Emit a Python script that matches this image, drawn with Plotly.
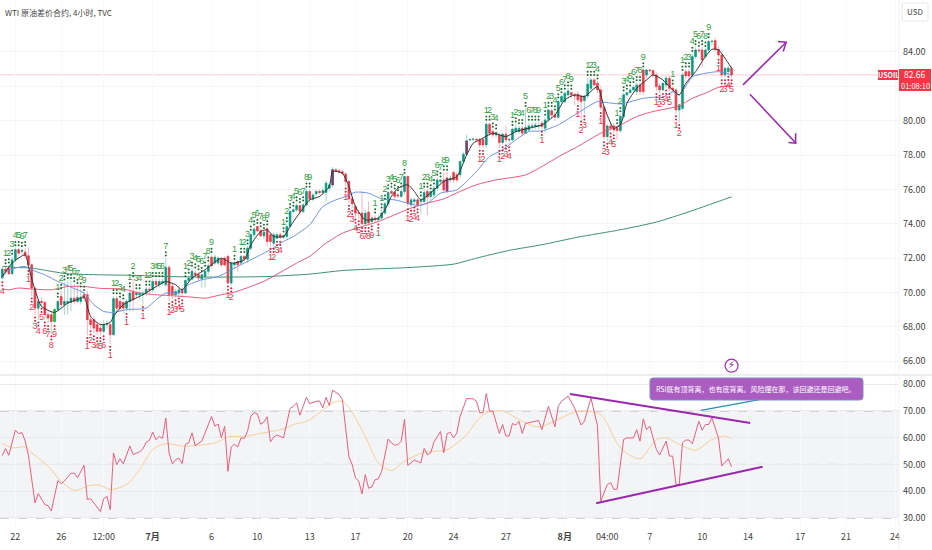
import plotly.graph_objects as go

# 4h candles, one row = 10 bars
opens = [
    70.84, 71.36, 71.42, 71.09, 71.90, 72.49, 72.39, 72.35, 72.14, 71.61,
    70.26, 69.09, 69.48, 69.42, 68.71, 68.71, 68.32, 69.00, 69.77, 69.29,
    69.38, 69.42, 69.67, 69.48, 69.48, 69.87, 69.87, 68.42, 68.42, 68.13,
    67.93, 67.74, 68.13, 68.13, 67.54, 69.64, 69.48, 69.42, 69.09, 69.48,
    70.06, 69.87, 69.87, 69.87, 69.97, 70.20, 70.16, 70.64, 70.45, 70.55,
    70.45, 71.46, 70.35, 69.87, 69.97, 70.16, 69.97, 70.70, 70.78, 71.13,
    71.03, 70.78, 70.93, 71.23, 72.06, 71.71, 71.71, 71.94, 72.00, 72.10,
    70.55, 71.61, 71.81, 71.71, 72.10, 71.94, 72.58, 73.36, 73.84, 73.59,
    73.30, 73.71, 73.36, 72.87, 73.16, 73.36, 73.22, 73.26, 73.84, 74.71,
    74.81, 75.06, 74.71, 75.10, 75.88, 75.43, 75.74, 75.88, 75.82, 75.82,
    76.07, 76.26, 77.14, 77.08, 77.02, 76.90, 76.46, 75.45, 75.00, 74.62,
    74.62, 74.00, 74.68, 74.13, 74.33, 74.23, 74.33, 74.62, 75.16, 75.88,
    75.82, 75.68, 75.59, 75.88, 76.75, 75.10, 75.30, 75.39, 75.30, 75.30,
    75.88, 75.59, 75.68, 76.07, 76.46, 76.55, 76.65, 76.55, 76.98, 76.85,
    76.85, 77.62, 78.05, 78.88, 78.90, 78.92, 78.92, 78.92, 78.59, 79.79,
    79.37, 79.17, 79.17, 78.73, 79.21, 78.88, 78.88, 79.37, 79.37, 79.56,
    79.27, 79.46, 79.66, 79.66, 79.69, 79.85, 79.56, 80.08, 80.57, 80.33,
    80.20, 81.11, 81.11, 81.50, 81.63, 81.50, 81.54, 81.44, 81.17, 81.44,
    81.88, 82.37, 82.17, 81.79, 80.78, 79.07, 79.69, 79.69, 79.56, 79.42,
    80.24, 81.50, 81.63, 81.79, 81.69, 82.08, 82.95, 82.66, 82.95, 82.91,
    82.66, 82.02, 81.79, 82.08, 82.47, 81.88, 81.79, 80.62, 80.72, 82.85,
    82.85, 82.66, 83.73, 84.11, 84.11, 83.73, 84.11, 84.60, 84.66, 84.15,
    83.82, 82.66, 82.85, 83.05,
]
closes = [
    71.36, 71.23, 71.09, 71.90, 72.49, 72.29, 72.45, 72.14, 71.61, 70.26,
    69.09, 69.48, 69.42, 68.71, 68.51, 68.32, 69.00, 69.48, 69.29, 69.48,
    69.48, 69.67, 69.48, 69.71, 69.73, 69.67, 68.42, 68.13, 67.93, 67.74,
    67.74, 68.13, 68.15, 67.54, 69.64, 69.09, 69.09, 69.09, 69.48, 69.97,
    69.58, 69.97, 69.97, 69.97, 70.20, 70.16, 70.64, 70.45, 70.64, 70.64,
    71.46, 69.87, 69.87, 70.06, 70.16, 69.97, 70.70, 70.84, 71.23, 71.03,
    70.84, 71.03, 71.23, 71.55, 71.55, 72.06, 72.00, 71.61, 71.61, 70.55,
    71.71, 71.71, 71.61, 72.10, 71.94, 72.58, 73.36, 73.69, 73.59, 73.30,
    73.51, 72.97, 72.97, 73.36, 73.36, 73.22, 73.30, 73.84, 74.71, 74.81,
    75.06, 74.71, 75.10, 75.88, 75.43, 75.68, 75.88, 75.82, 75.93, 76.36,
    76.26, 77.14, 77.08, 77.02, 76.94, 76.46, 75.45, 75.16, 74.62, 74.60,
    74.00, 74.62, 74.04, 74.33, 74.23, 74.33, 74.62, 75.16, 75.82, 75.78,
    75.59, 75.62, 75.88, 76.75, 75.16, 75.39, 75.39, 75.10, 75.39, 75.82,
    75.55, 75.88, 76.07, 76.55, 76.55, 75.97, 75.88, 76.65, 76.55, 76.55,
    77.62, 78.05, 78.82, 78.90, 78.92, 78.88, 78.59, 78.59, 79.79, 79.27,
    79.17, 79.31, 78.73, 79.21, 78.88, 78.90, 79.50, 79.56, 79.56, 79.27,
    79.60, 79.69, 79.69, 79.75, 79.71, 79.66, 80.04, 80.62, 80.33, 80.20,
    81.11, 81.40, 81.59, 81.73, 81.50, 81.44, 81.21, 81.11, 81.44, 82.12,
    82.37, 82.08, 81.79, 80.78, 79.07, 79.69, 79.56, 79.46, 79.42, 80.24,
    81.50, 81.63, 81.79, 81.94, 82.08, 81.69, 81.69, 82.95, 82.91, 82.66,
    81.98, 81.79, 82.17, 82.47, 81.88, 81.79, 80.62, 80.92, 82.66, 82.60,
    82.60, 83.73, 84.11, 84.07, 83.53, 84.11, 84.60, 84.62, 84.15, 83.82,
    82.66, 83.05, 83.05, 82.66,
]
highs = [
    71.5, 71.55, 71.6, 72.1, 72.6, 72.6, 72.55, 72.6, 72.6, 71.7,
    70.3, 69.6, 69.7, 69.5, 68.9, 68.9, 69.1, 69.6, 70.1, 70.6,
    70.7, 70.7, 70.5, 70.4, 70.2, 70.0, 70.1, 68.6, 68.6, 68.3,
    68.2, 68.4, 68.4, 68.3, 69.8, 69.8, 69.6, 69.5, 69.6, 70.2,
    70.8, 70.1, 70.1, 70.1, 70.3, 70.3, 70.8, 70.8, 70.8, 70.8,
    72.0, 71.6, 70.5, 70.2, 70.3, 70.3, 70.8, 71.0, 71.4, 71.3,
    71.2, 71.1, 71.4, 71.7, 72.2, 72.2, 72.1, 72.0, 72.1, 72.2,
    71.8, 71.8, 71.9, 72.2, 72.2, 72.7, 73.5, 73.8, 73.9, 73.7,
    73.6, 73.8, 73.4, 73.5, 73.5, 73.5, 73.4, 74.0, 74.8, 74.9,
    75.2, 75.1, 75.2, 76.0, 76.0, 75.8, 76.0, 76.0, 76.1, 76.5,
    76.4, 77.3, 77.25, 77.2, 77.15, 77.0, 76.6, 75.6, 75.1, 74.8,
    75.9, 74.8, 75.3, 74.5, 74.5, 74.5, 74.8, 75.3, 75.9, 76.0,
    75.9, 75.8, 76.0, 76.8, 76.8, 75.5, 75.5, 75.5, 75.5, 76.0,
    76.0, 75.9, 76.2, 76.7, 76.6, 77.0, 77.0, 76.8, 77.1, 77.0,
    77.7, 78.2, 79.2, 79.0, 79.0, 79.0, 79.0, 79.0, 79.9, 79.9,
    79.5, 79.4, 79.3, 79.3, 79.7, 79.0, 79.6, 79.8, 79.7, 79.7,
    80.7, 79.9, 79.9, 79.9, 79.9, 80.0, 80.2, 80.7, 80.7, 80.5,
    81.2, 81.5, 81.7, 81.9, 81.7, 81.6, 81.7, 81.5, 81.5, 82.5,
    82.5, 82.5, 82.3, 82.0, 80.9, 79.8, 79.9, 79.9, 79.7, 80.4,
    81.6, 81.7, 81.9, 82.1, 82.2, 82.2, 83.0, 83.0, 83.0, 83.0,
    82.8, 82.2, 82.3, 82.6, 82.6, 82.0, 81.9, 81.0, 82.8, 83.0,
    83.0, 83.9, 84.3, 84.2, 84.3, 84.2, 84.7, 84.7, 84.85, 84.3,
    83.9, 83.1, 83.2, 83.2,
]
lows = [
    70.75, 71.1, 71.0, 71.0, 71.8, 72.15, 72.2, 72.0, 71.4, 69.8,
    68.7, 68.4, 69.2, 68.4, 68.2, 67.6, 68.2, 68.9, 69.1, 68.7,
    68.7, 68.9, 69.3, 69.4, 69.3, 69.5, 67.5, 67.9, 67.6, 67.5,
    67.5, 67.6, 67.9, 67.0, 67.5, 68.9, 68.9, 68.8, 68.9, 68.9,
    68.9, 69.7, 69.6, 69.3, 69.8, 69.9, 70.0, 70.3, 70.3, 70.4,
    70.3, 69.5, 69.6, 69.7, 69.8, 69.7, 69.9, 70.6, 70.7, 70.9,
    70.7, 70.3, 70.3, 71.0, 71.4, 71.6, 71.6, 71.5, 71.5, 70.5,
    70.4, 71.4, 71.2, 71.6, 71.8, 71.7, 72.4, 73.2, 73.5, 73.2,
    73.1, 72.7, 72.7, 72.7, 73.1, 73.1, 73.1, 73.1, 73.7, 74.6,
    74.7, 74.5, 74.6, 75.0, 75.2, 75.3, 75.6, 75.7, 75.7, 75.3,
    75.9, 76.1, 77.0, 76.9, 76.8, 76.2, 75.2, 74.9, 74.4, 74.3,
    73.9, 73.9, 73.9, 74.0, 74.1, 74.1, 74.2, 74.5, 75.0, 75.7,
    75.4, 75.5, 75.5, 75.7, 75.0, 74.9, 75.1, 75.0, 74.6, 75.2,
    74.5, 75.4, 75.5, 75.9, 76.3, 75.8, 75.8, 76.4, 76.4, 76.4,
    76.7, 77.5, 78.0, 78.8, 78.8, 78.8, 78.4, 78.4, 78.4, 79.1,
    79.0, 79.0, 78.4, 78.6, 78.7, 78.6, 78.8, 79.2, 79.2, 79.1,
    79.2, 79.4, 79.5, 79.5, 79.5, 79.5, 79.3, 79.9, 80.1, 80.0,
    80.1, 81.0, 81.0, 81.4, 81.3, 80.9, 81.0, 80.1, 80.4, 81.3,
    81.7, 82.0, 81.6, 80.6, 78.9, 78.8, 79.4, 79.3, 78.9, 79.3,
    80.1, 81.4, 81.6, 81.7, 81.5, 81.5, 81.5, 82.5, 82.8, 82.5,
    81.7, 81.6, 81.7, 81.9, 81.7, 81.6, 80.4, 79.9, 80.6, 82.4,
    82.2, 82.5, 83.6, 83.9, 83.1, 83.6, 84.0, 84.4, 84.0, 83.7,
    82.5, 82.5, 82.7, 82.5,
]
bars = list(range(len(closes)))

# candles the script paints in another colour
bright_bars = [16]
purple_bars = [101, 142, 136]

black_bar = [0, 3, 7, 8, 10, 12, 16, 20, 24, 25, 27, 30, 33, 34, 37, 43, 48, 50, 53, 55, 58, 62, 67, 70, 74, 76, 79, 81, 83, 86, 88, 92, 94,
             97, 100, 101, 104, 106, 108, 111, 115, 117, 119, 121, 124, 126, 128, 132, 135, 139, 142, 144, 146, 150, 154, 157, 161, 165, 169, 172, 175, 178, 182, 184, 187,
             189, 191, 194, 197, 199, 202, 204, 207, 209, 212, 215, 217, 219, 221, 223]
black_val = [70.93, 71.71, 72.2, 71.52, 70.16, 69.19, 68.84, 69.38, 69.67, 69.77, 68.61, 68.13, 68.26, 68.61, 69.29, 69.87, 70.45, 70.64, 70.45, 70.16, 70.84, 71.32, 72.0, 71.71, 71.9, 72.78, 73.55, 73.65, 73.26, 73.26, 73.84, 74.91, 75.39,
             75.59, 76.17, 77.04, 76.94, 76.17, 75.0, 74.23, 74.33, 74.81, 75.59, 76.07, 76.27, 75.88, 75.39, 75.97, 76.46, 76.75, 78.01, 78.69, 78.88, 79.27, 79.07, 79.36, 79.56, 79.75, 80.33, 81.21, 81.5, 81.4, 81.98, 80.82, 79.56,
             79.75, 81.01, 81.88, 82.37, 82.66, 82.37, 81.98, 81.5, 82.17, 82.85, 83.73, 84.15, 84.12, 83.63, 83.05]
blue_bar = [0, 1, 4, 7, 9, 13, 17, 21, 25, 28, 31, 34, 38, 44, 47, 50, 54, 57, 61, 66, 70, 74, 79, 82, 86, 89, 94,
            98, 102, 105, 108, 112, 116, 120, 124, 127, 130, 134, 139, 142, 145, 149, 153, 157, 161, 165, 170, 175, 180, 182, 185, 189,
            191, 196, 199, 202, 205, 207, 211, 214, 219, 223]
blue_val = [70.84, 71.17, 71.42, 71.52, 71.32, 71.03, 70.64, 70.31, 69.97, 69.29, 68.9, 68.84, 69.0, 69.09, 69.58, 69.97, 69.97, 70.45, 70.74, 70.93, 71.32, 71.71, 72.19, 72.49, 72.97, 73.26, 73.94,
            75.0, 75.39, 75.59, 75.84, 75.78, 75.45, 75.39, 75.2, 75.06, 75.2, 75.78, 75.97, 76.46, 77.04, 77.91, 78.3, 78.88, 79.37, 79.4, 79.75, 80.33, 80.92, 81.11, 81.05, 80.97,
            81.05, 81.3, 81.36, 81.36, 81.69, 81.5, 82.56, 82.72, 82.85, 82.66]
red_bar = [0, 2, 5, 9, 15, 20, 25, 30, 37, 42, 47, 52, 58, 62, 67, 71, 76, 81, 86, 91, 94,
           99, 104, 109, 115, 120, 125, 130, 135, 140, 145, 151, 160, 165, 171, 176, 183, 189,
           194, 199, 204, 207, 211, 215, 219, 223]
red_val = [70.2, 70.16, 70.26, 70.2, 70.16, 70.35, 70.35, 70.24, 70.2, 69.97, 69.87, 69.81, 69.73, 69.67, 69.87, 70.02, 70.35, 70.74, 71.28, 71.81, 72.1,
           72.87, 73.45, 73.78, 74.13, 74.52, 74.91, 75.2, 75.45, 75.88, 76.27, 76.55, 76.84, 77.33, 78.0, 78.5, 79.27, 79.75,
           80.24, 80.53, 80.72, 80.86, 81.3, 81.6, 81.94, 82.08]
green_bar = [0, 4, 9, 15, 20, 30, 40, 50, 61, 71, 81, 94, 104, 115, 125, 138, 145, 155, 165, 176, 189, 200, 210, 223]
green_val = [71.52, 71.46, 71.42, 71.23, 71.09, 71.03, 71.0, 70.93, 70.9, 70.9, 70.93, 71.07, 71.28, 71.38, 71.46, 71.65, 72.0, 72.45, 72.78, 73.22, 73.65, 74.1, 74.7, 75.57]

# RSI turning points
rsi_bar = [0, 1, 2, 4, 5, 6, 7, 8, 10, 11, 13, 14, 15, 17, 18, 19, 21, 22, 23, 25, 26, 27, 30, 31, 32, 33, 34, 35, 36, 37,
           39, 40, 42, 43, 44, 45, 46, 47, 48, 49, 50, 51, 52, 53, 54, 55, 56, 57, 58, 59, 61, 64, 65, 66, 67, 68, 69, 70, 71, 72,
           73, 74, 75, 76, 77, 78, 79, 80, 81, 82, 83, 84, 86, 88, 89, 90, 91, 93, 94, 96, 97, 98, 99, 100, 101, 103, 104, 105, 106, 107,
           108, 109, 110, 111, 112, 113, 114, 115, 116, 118, 119, 120, 121, 122, 123, 124, 126, 128, 129, 130, 131, 132, 134, 135, 136, 137, 138, 139, 140, 142,
           144, 145, 146, 147, 148, 149, 150, 152, 153, 154, 155, 156, 157, 158, 159, 160, 164, 165, 167, 169, 170, 171, 173, 175, 177, 178, 180, 182, 183, 185,
           186, 187, 188, 190, 191, 193, 194, 195, 196, 197, 198, 200, 201, 203, 204, 205, 206, 207, 208, 209, 210, 211, 213, 214, 215, 216, 217, 219, 220, 222, 223]
rsi_val = [53.3, 55.9, 53.4, 62.8, 61.5, 61.9, 58.7, 53.3, 35.6, 39.1, 35.0, 34.6, 32.6, 44.0, 42.8, 43.8, 46.7, 46.7, 45.0, 49.7, 36.9, 37.2, 32.4, 37.2, 38.1, 33.1, 54.3, 49.9, 52.1, 50.2,
           56.9, 53.7, 54.7, 55.8, 58.3, 59.0, 62.1, 59.2, 60.5, 59.7, 67.3, 54.3, 50.2, 51.8, 52.3, 50.3, 57.5, 58.0, 61.8, 57.0, 58.7, 67.9, 64.3, 65.1, 59.9, 64.3, 47.4, 56.5, 57.5, 56.5,
           59.9, 59.7, 62.4, 68.0, 69.3, 68.9, 65.0, 65.8, 67.8, 58.4, 60.2, 61.0, 59.9, 70.9, 71.7, 73.0, 68.4, 75.1, 72.7, 73.6, 73.7, 71.1, 75.1, 72.0, 77.7, 76.1, 74.2, 64.3, 52.8, 49.9,
           45.0, 43.7, 39.0, 46.2, 41.1, 41.6, 44.3, 44.6, 47.4, 59.5, 58.0, 57.2, 57.4, 58.7, 66.8, 49.6, 51.6, 50.6, 56.0, 53.6, 54.3, 58.4, 62.3, 54.3, 61.5, 62.0, 59.9, 61.8, 68.0, 74.6,
           74.5, 73.6, 69.3, 69.3, 76.5, 69.9, 69.9, 61.6, 64.9, 60.6, 60.6, 65.3, 64.7, 66.1, 61.6, 65.3, 66.4, 63.0, 71.7, 64.0, 71.7, 73.6, 75.5, 71.1, 64.7, 66.1, 74.8, 64.5, 36.3, 42.5,
           43.2, 40.7, 40.7, 59.3, 59.9, 59.9, 63.0, 58.7, 67.0, 63.0, 64.3, 55.6, 53.5, 58.7, 53.1, 53.1, 42.5, 42.5, 58.1, 59.1, 59.1, 57.7, 66.1, 62.8, 64.9, 64.9, 67.4, 59.9, 49.4, 52.1, 49.1]
rsi_ma_bar = [0, 3, 7, 9, 14, 18, 22, 27, 30, 33, 38, 42, 46, 50, 55, 60, 65, 69, 74, 80, 86, 89, 93, 97, 101, 104, 107, 111, 115, 119, 123, 129, 136, 142,
              145, 148, 153, 159, 164, 171, 176, 183, 189, 195, 200, 203, 207, 212, 217, 221, 223]
rsi_ma_val = [57.8, 56.2, 56.5, 54.3, 49.3, 43.7, 40.3, 42.2, 42.2, 40.6, 42.5, 48.1, 55.5, 57.8, 56.8, 57.2, 58.0, 60.3, 60.5, 61.8, 63.3, 64.9, 66.1, 69.3, 73.0, 73.6, 69.3, 60.5, 50.6, 47.7, 51.2, 54.5, 55.5, 61.1,
              66.1, 69.3, 69.9, 66.1, 64.0, 67.4, 69.9, 68.6, 56.2, 52.1, 59.3, 59.9, 57.5, 55.3, 59.3, 60.6, 59.6]

# sequential count labels
up_bar = [1, 2, 3, 4, 5, 6, 7, 17, 18, 19, 20, 21, 22, 23, 24, 25, 34, 35, 36, 37, 39, 40, 41, 42,
          44, 45, 46, 47, 48, 49, 50, 56, 57, 58, 59, 60, 61, 62, 63, 64, 71, 73, 74, 75, 76, 77, 78, 79, 80, 81,
          86, 87, 88, 89, 90, 91, 92, 93, 94, 114, 116, 117, 118, 119, 120, 121, 122, 123,
          128, 129, 130, 131, 132, 133, 134, 135, 136, 148, 149, 150, 151,
          156, 157, 158, 159, 160, 161, 162, 163, 164, 166, 167, 168, 169, 170, 171, 172, 173, 174,
          179, 180, 181, 182, 188, 189, 190, 191, 192, 193, 194, 195, 196, 205,
          208, 209, 210, 211, 212, 213, 214, 215, 216]
up_label = ["1", "2", "3", "4", "5", "6", "7", "1", "2", "3", "4", "5", "6", "7", "8", "9", "1", "2", "3", "4", "1", "2", "3", "4",
            "1", "2", "3", "4", "5", "6", "7", "1", "2", "3", "4", "5", "6", "7", "8", "9", "1", "1", "2", "3", "4", "5", "6", "7", "8", "9",
            "1", "2", "3", "4", "5", "6", "7", "8", "9", "1", "1", "2", "3", "4", "5", "6", "7", "8",
            "1", "2", "3", "4", "5", "6", "7", "8", "9", "1", "2", "3", "4",
            "1", "2", "3", "4", "5", "6", "7", "8", "9", "1", "2", "3", "4", "5", "6", "7", "8", "9",
            "1", "2", "3", "4", "1", "2", "3", "4", "5", "6", "7", "8", "9", "1",
            "1", "2", "3", "4", "5", "6", "7", "8", "9"]
down_bar = [0, 8, 9, 10, 11, 12, 13, 14, 15, 16, 26, 27, 28, 29, 30, 31, 33, 38, 43, 51, 52, 53, 54, 55, 69, 70, 82, 83, 84, 85,
            105, 106, 107, 108, 109, 110, 111, 112, 113, 115, 124, 125, 126, 127, 146, 147, 152, 153, 154, 155, 165,
            176, 177, 178, 183, 184, 185, 186, 187, 200, 201, 202, 203, 204, 206, 207, 219, 220, 221, 222, 223]
down_label = ["4", "1", "2", "3", "4", "5", "6", "7", "8", "9", "1", "2", "3", "4", "5", "6", "1", "1", "1", "1", "2", "3", "4", "5", "1", "2", "1", "2", "3", "4",
              "1", "2", "3", "4", "5", "6", "7", "8", "9", "1", "1", "2", "3", "4", "1", "2", "1", "2", "3", "4", "1",
              "1", "2", "3", "1", "2", "3", "4", "5", "1", "2", "3", "4", "5", "1", "2", "1", "2", "3", "4", "5"]

# axis ticks
price_ticks = [66, 68, 70, 72, 74, 76, 78, 80, 82, 84]
rsi_ticks = [30, 40, 50, 60, 70, 80]
x_ticks = [4, 18, 31, 46, 64, 78, 94, 108, 124, 138, 154, 172, 185, 198, 214, 228, 244, 258, 273]
x_labels = ["22", "26", "12:00", "<b>7月</b>", "6", "10", "13", "17", "20", "24", "27", "<b>8月</b>", "04:00", "7", "10", "14", "17", "21", "24"]
last_price = 82.66

UP = "#089981"
DOWN = "#f23645"
PURPLE = "#9c27b0"
CJK = "Noto Sans CJK SC"
NARROW = "Liberation Sans Narrow, Noto Sans CJK SC"
W, H = 932, 550
PANE_R = 899


def px(x):
    return x / W


def py(y):
    return 1 - y / H


fig = go.Figure()

# wicks are paler than bodies, so two layers
fig.add_trace(go.Candlestick(
    x=bars, open=opens, high=highs, low=lows, close=closes, whiskerwidth=0,
    increasing=dict(line=dict(color="#a5d8cf", width=1), fillcolor=UP),
    decreasing=dict(line=dict(color="#f8b4ba", width=1), fillcolor=DOWN),
    hoverinfo="skip",
))
body_hi = [max(o, c) for o, c in zip(opens, closes)]
body_lo = [min(o, c) for o, c in zip(opens, closes)]
fig.add_trace(go.Candlestick(
    x=bars, open=opens, high=body_hi, low=body_lo, close=closes, whiskerwidth=0,
    increasing=dict(line=dict(color=UP, width=0.6), fillcolor=UP),
    decreasing=dict(line=dict(color=DOWN, width=0.6), fillcolor=DOWN),
    hoverinfo="skip",
))
for picked, col in [(bright_bars, "#22c93c"), (purple_bars, "#8a3a78")]:
    fig.add_trace(go.Candlestick(
        x=picked, open=[opens[i] for i in picked], high=[body_hi[i] for i in picked],
        low=[body_lo[i] for i in picked], close=[closes[i] for i in picked], whiskerwidth=0,
        increasing=dict(line=dict(color=col, width=0.6), fillcolor=col),
        decreasing=dict(line=dict(color=col, width=0.6), fillcolor=col),
        hoverinfo="skip",
    ))

for xs, ys, col in [(green_bar, green_val, "#3f8f76"), (red_bar, red_val, "#e8577a"),
                    (blue_bar, blue_val, "#6f92e0"), (black_bar, black_val, "#333333")]:
    fig.add_trace(go.Scatter(x=xs, y=ys, mode="lines", line=dict(color=col, width=1, shape="spline", smoothing=0.6), hoverinfo="skip"))

# count labels with their dots
up_top = [highs[i] for i in up_bar]
down_bot = [lows[i] for i in down_bar]
for off in (0.15, 0.34):
    fig.add_trace(go.Scatter(x=up_bar, y=[v + off for v in up_top], mode="markers",
                             marker=dict(color="#1b6e2a", size=2), hoverinfo="skip"))
    fig.add_trace(go.Scatter(x=down_bar, y=[v - off for v in down_bot], mode="markers",
                             marker=dict(color="#d81f36", size=2), hoverinfo="skip"))
fig.add_trace(go.Scatter(x=up_bar, y=[v + 0.42 for v in up_top], mode="text", text=up_label, textposition="top center",
                         textfont=dict(color="#2e9e3e", size=9, family="Liberation Sans Narrow, Liberation Sans"), hoverinfo="skip"))
fig.add_trace(go.Scatter(x=down_bar, y=[v - 0.42 for v in down_bot], mode="text", text=down_label, textposition="bottom center",
                         textfont=dict(color="#e5384f", size=9, family="Liberation Sans Narrow, Liberation Sans"), hoverinfo="skip"))

# hand-drawn arrows on the price pane
arrow_up_x = [226.5, 239.7]
arrow_up_y = [82.08, 84.56]
arrow_up_head_x = [237.2, 239.7, 238.8]
arrow_up_head_y = [84.6, 84.56, 84.02]
arrow_down_x = [228.6, 242.7]
arrow_down_y = [81.54, 78.69]
arrow_down_head_x = [240.4, 242.6, 242.6]
arrow_down_head_y = [78.73, 78.69, 79.27]
for xs, ys in [(arrow_up_x, arrow_up_y), (arrow_up_head_x, arrow_up_head_y),
               (arrow_down_x, arrow_down_y), (arrow_down_head_x, arrow_down_head_y)]:
    fig.add_trace(go.Scatter(x=xs, y=ys, mode="lines", line=dict(color=PURPLE, width=1.5), hoverinfo="skip"))

# news marker above the RSI pane
fig.add_trace(go.Scatter(x=[223], y=[65.74], mode="markers+text", text=["⚡"], textposition="middle center",
                         marker=dict(size=13, color="white", line=dict(color=PURPLE, width=1.2)),
                         textfont=dict(size=10, color=PURPLE, family="DejaVu Sans"), hoverinfo="skip"))

# RSI pane
fig.add_trace(go.Scatter(x=rsi_ma_bar, y=rsi_ma_val, yaxis="y2", mode="lines",
                         line=dict(color="#f6cf9a", width=1, shape="spline", smoothing=0.8), hoverinfo="skip"))
fig.add_trace(go.Scatter(x=rsi_bar, y=rsi_val, yaxis="y2", mode="lines",
                         line=dict(color="#e8607e", width=1), hoverinfo="skip"))
trend_upper_x = [173.6, 228.7]
trend_upper_y = [76.3, 65.5]
trend_lower_x = [181.6, 232.5]
trend_lower_y = [35.5, 49.1]
callout_x = [213.6, 231.5]
callout_y = [70.2, 74.2]
fig.add_trace(go.Scatter(x=callout_x, y=callout_y, yaxis="y2", mode="lines", line=dict(color="#2a8fb0", width=1.2), hoverinfo="skip"))
for xs, ys in [(trend_upper_x, trend_upper_y), (trend_lower_x, trend_lower_y)]:
    fig.add_trace(go.Scatter(x=xs, y=ys, yaxis="y2", mode="lines", line=dict(color=PURPLE, width=2), hoverinfo="skip"))

shapes = [
    # last price line
    dict(type="line", xref="paper", x0=0, x1=px(PANE_R), yref="y", y0=last_price, y1=last_price, line=dict(color="#f9c9ce", width=1), layer="below"),
    # RSI band
    dict(type="rect", xref="paper", x0=0, x1=px(PANE_R), yref="y2", y0=30, y1=70, fillcolor="#f3f4f6", line_width=0, layer="below"),
    # pane separator and right edge
    dict(type="line", xref="paper", yref="paper", x0=0, x1=1, y0=py(375), y1=py(375), line=dict(color="#eceef1", width=2)),
    dict(type="line", xref="paper", yref="paper", x0=px(PANE_R), x1=px(PANE_R), y0=0, y1=1, line=dict(color="#f0f1f3", width=1)),
    # price tags
    dict(type="rect", xref="paper", yref="paper", x0=px(878), x1=px(898), y0=py(80), y1=py(70), fillcolor=DOWN, line_width=0),
    dict(type="rect", xref="paper", yref="paper", x0=px(899), x1=px(931), y0=py(91), y1=py(69), fillcolor=DOWN, line_width=0),
    # USD button
    dict(type="rect", xref="paper", yref="paper", x0=px(902), x1=px(928), y0=py(21), y1=py(3), fillcolor="white", line=dict(color="#e6e8ec", width=1)),
    # callout box
    dict(type="path", xref="paper", yref="paper", fillcolor="#ab5cc0", line=dict(color="#7f8fc4", width=1),
         path=f"M {px(653)},{py(378)} L {px(860)},{py(378)} Q {px(863)},{py(378)} {px(863)},{py(381)} "
              f"L {px(863)},{py(397)} Q {px(863)},{py(400)} {px(860)},{py(400)} L {px(653)},{py(400)} "
              f"Q {px(650)},{py(400)} {px(650)},{py(397)} L {px(650)},{py(381)} Q {px(650)},{py(378)} {px(653)},{py(378)} Z"),
]
for level in [70, 50, 30]:
    shapes.append(dict(type="line", xref="paper", x0=0, x1=px(PANE_R), yref="y2", y0=level, y1=level,
                       line=dict(color="#9a9a9a", width=1, dash="dash"), layer="below"))


def note(x, y, text, size=10, color="white", family=CJK, anchor="center"):
    return dict(xref="paper", yref="paper", x=px(x), y=py(y), text=text, showarrow=False, xanchor=anchor, yanchor="middle",
                font=dict(size=size, color=color, family=family), borderpad=0)


annotations = [
    note(4, 12, "WTI 原油差价合约, 4小时, TVC", 8, "#444444", NARROW, "left"),
    note(915, 11, "USD", 8, "#444444", NARROW),
    note(888, 75, "<b>USOIL</b>", 7, "white", NARROW),
    note(915, 73.5, "82.66", 8.5, "white", NARROW),
    note(915, 85, "01:08:10", 7.5, "white", NARROW),
    note(756, 389, "RSI既有顶背离，也有底背离。风险摆在那，该回避还是回避吧。", 7, "white"),
]

fig.update_layout(
    width=W, height=H, margin=dict(l=0, r=0, t=0, b=0), showlegend=False,
    paper_bgcolor="white", plot_bgcolor="white", boxgap=0.3,
    shapes=shapes, annotations=annotations,
    xaxis=dict(domain=[0, PANE_R / W], range=[-0.7, 274.2], anchor="y2", tickvals=x_ticks, ticktext=x_labels,
               tickfont=dict(size=9, color="#444444", family=NARROW), ticks="", showgrid=True, gridcolor="#f8f9fa",
               zeroline=False, showline=False, rangeslider=dict(visible=False)),
    yaxis=dict(domain=[py(375), 1], range=[65.2, 87.02], anchor="x", side="right", tickvals=price_ticks, tickformat=".2f",
               tickfont=dict(size=9, color="#444444", family=NARROW), ticks="", ticklabelstandoff=3, showgrid=True, gridcolor="#f3f4f6",
               zeroline=False, showline=False),
    yaxis2=dict(domain=[py(530), py(375)], range=[25.5, 83.4], anchor="x", side="right", tickvals=rsi_ticks, tickformat=".2f",
                tickfont=dict(size=9, color="#444444", family=NARROW), ticks="", ticklabelstandoff=3, showgrid=True, gridcolor="#e9eaed",
                zeroline=False, showline=False),
)

# the page body has a default margin, which would push the chart off the window
fig.write_html("out.html", config=dict(displayModeBar=False), post_script="document.body.style.margin='0';")
